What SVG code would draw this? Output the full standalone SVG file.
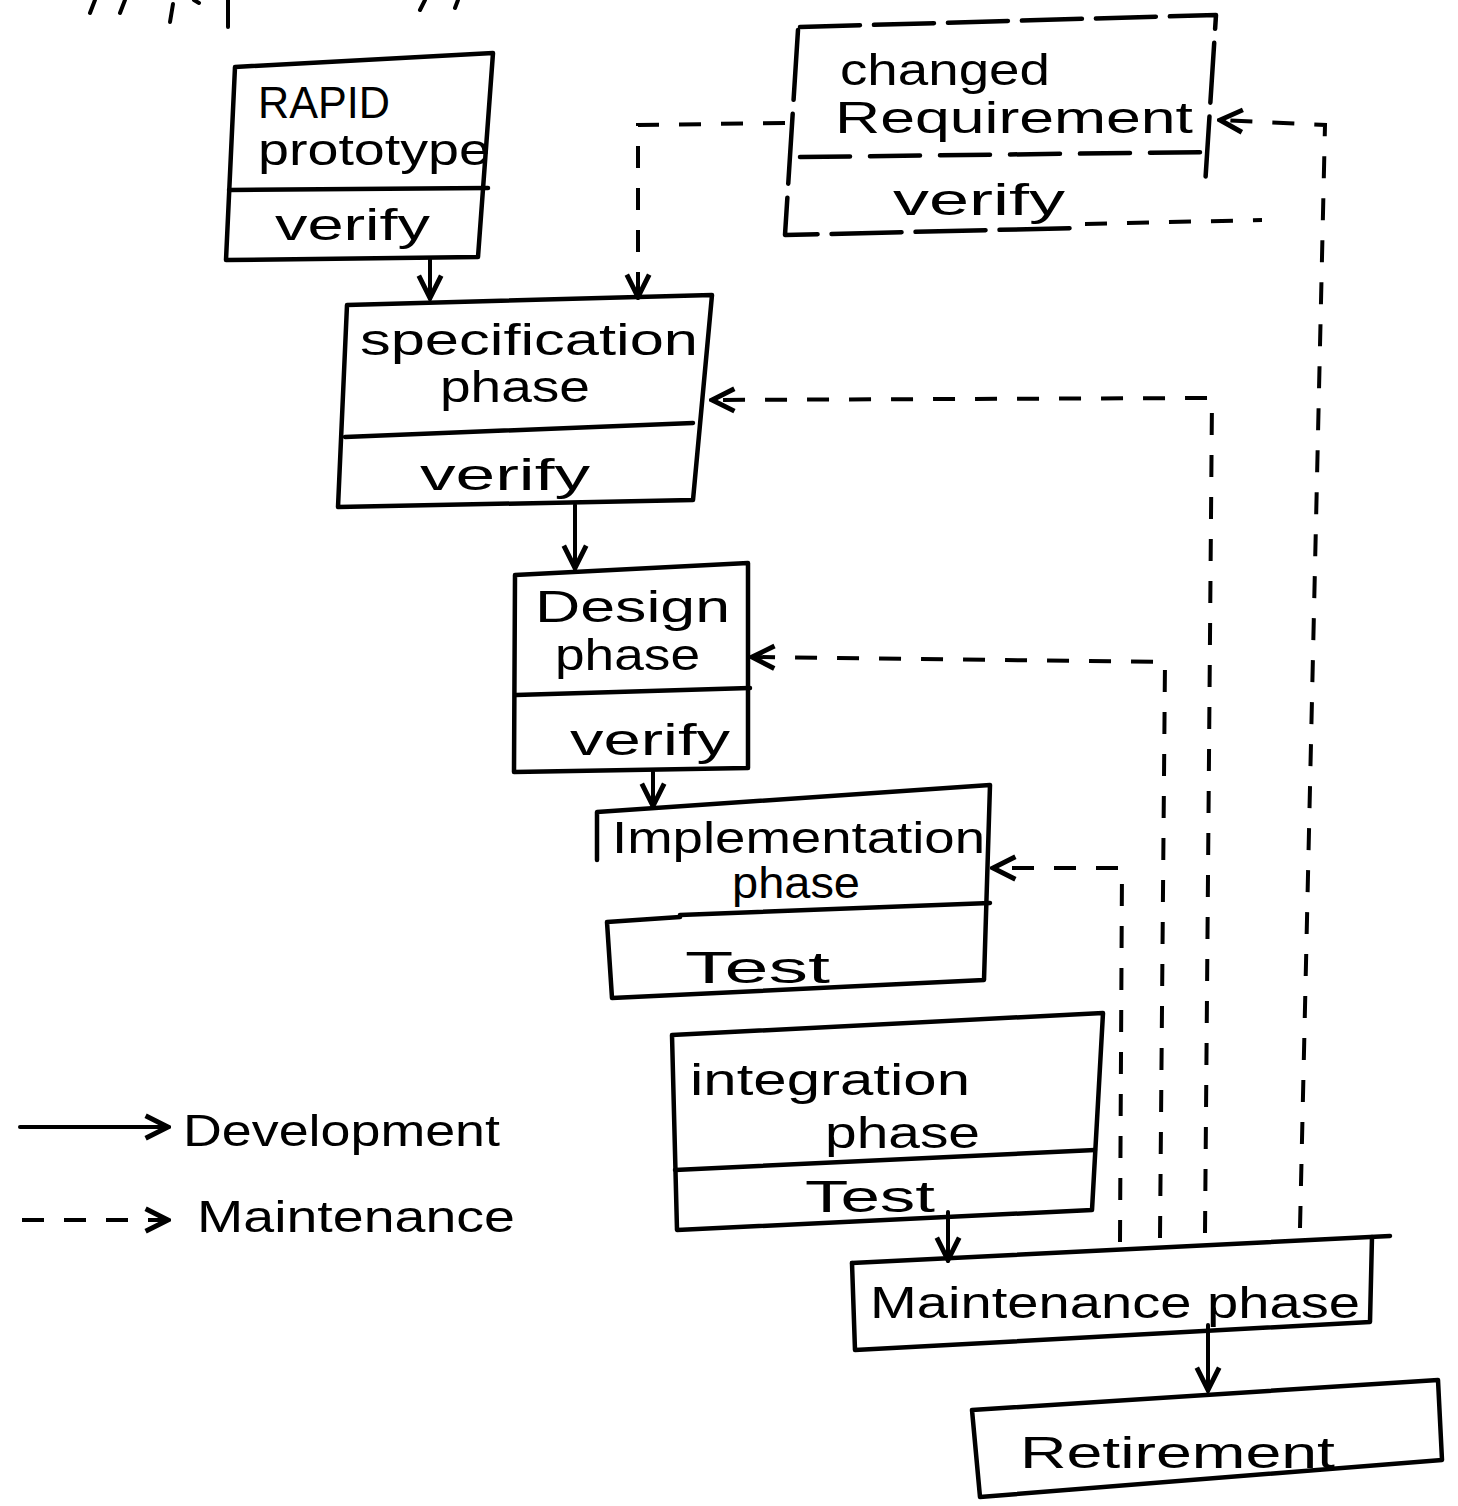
<svg xmlns="http://www.w3.org/2000/svg" width="1458" height="1506" viewBox="0 0 1458 1506">
<style>
.bx{fill:none;stroke:#000;stroke-width:4.5;stroke-linejoin:round;stroke-linecap:round}
.t{font-family:"Liberation Sans","DejaVu Sans",sans-serif;font-size:44px;fill:#000}
.s{fill:none;stroke:#000;stroke-width:4;stroke-linecap:round}
.d{fill:none;stroke:#000;stroke-width:4;stroke-dasharray:22 20}
</style>
<defs>
<marker id="ah" viewBox="0 0 20 20" refX="18" refY="10" markerWidth="7" markerHeight="7" markerUnits="strokeWidth" orient="auto">
<path d="M2,2 L18,10 L2,18" fill="none" stroke="#000" stroke-width="3.5"/>
</marker>
</defs>
<rect width="1458" height="1506" fill="#fff"/>
<g id="fragments" class="s">
<path d="M95,0 L90,13"/><path d="M125,0 L120,13"/><path d="M173,4 L170,22"/><path d="M194,0 L199,3"/><path d="M228,0 L228,27"/><path d="M425,0 L420,10"/><path d="M458,0 L455,8"/>
</g>
<g id="rapid">
<path class="bx" d="M235,67 L493,53 L478,257 L226,260 Z"/>
<path class="bx" d="M229,190 L488,188"/>
<text class="t" x="258" y="118" textLength="132" lengthAdjust="spacingAndGlyphs">RAPID</text>
<text class="t" x="258" y="165" textLength="232" lengthAdjust="spacingAndGlyphs">prototype</text>
<text class="t" x="275" y="240" textLength="155" lengthAdjust="spacingAndGlyphs">verify</text>
</g>
<g id="changed">
<path class="bx" d="M800,27 L1216,15 L1205,186" stroke-dasharray="60 14"/>
<path class="bx" d="M798,30 L785,235 L1075,228" stroke-dasharray="70 14"/>
<path class="bx" d="M800,157 L1212,152" stroke-dasharray="50 20"/>
<text class="t" x="840" y="85" textLength="210" lengthAdjust="spacingAndGlyphs">changed</text>
<text class="t" x="835" y="133" textLength="358" lengthAdjust="spacingAndGlyphs">Requirement</text>
<text class="t" x="893" y="215" textLength="172" lengthAdjust="spacingAndGlyphs">verify</text>
</g>
<g id="spec">
<path class="bx" d="M347,305 L712,295 L693,500 L338,507 Z"/>
<path class="bx" d="M345,437 L693,423"/>
<text class="t" x="360" y="355" textLength="338" lengthAdjust="spacingAndGlyphs">specification</text>
<text class="t" x="440" y="402" textLength="150" lengthAdjust="spacingAndGlyphs">phase</text>
<text class="t" x="420" y="490" textLength="170" lengthAdjust="spacingAndGlyphs">verify</text>
</g>
<g id="design">
<path class="bx" d="M515,575 L748,563 L748,768 L514,772 Z"/>
<path class="bx" d="M516,695 L750,688"/>
<text class="t" x="535" y="622" textLength="195" lengthAdjust="spacingAndGlyphs">Design</text>
<text class="t" x="555" y="670" textLength="145" lengthAdjust="spacingAndGlyphs">phase</text>
<text class="t" x="570" y="755" textLength="160" lengthAdjust="spacingAndGlyphs">verify</text>
</g>
<g id="implementation">
<path class="bx" d="M597,860 L597,812 L990,785 L984,980 L612,998 L607,922 L680,917"/>
<path class="bx" d="M680,915 L990,903"/>
<text class="t" x="612" y="853" font-size="41" textLength="373" lengthAdjust="spacingAndGlyphs">Implementation</text>
<text class="t" x="732" y="898" font-size="36" textLength="128" lengthAdjust="spacingAndGlyphs">phase</text>
<text class="t" x="685" y="983" textLength="145" lengthAdjust="spacingAndGlyphs">Test</text>
</g>
<g id="integration">
<path class="bx" d="M672,1035 L1103,1013 L1092,1210 L677,1230 Z"/>
<path class="bx" d="M675,1170 L1095,1150"/>
<text class="t" x="690" y="1095" textLength="280" lengthAdjust="spacingAndGlyphs">integration</text>
<text class="t" x="825" y="1148" textLength="155" lengthAdjust="spacingAndGlyphs">phase</text>
<text class="t" x="805" y="1212" textLength="130" lengthAdjust="spacingAndGlyphs">Test</text>
</g>
<g id="maintenance">
<path class="bx" d="M852,1263 L1390,1236"/>
<path class="bx" d="M852,1263 L855,1350 L1370,1322 L1372,1237"/>
<text class="t" x="870" y="1318" textLength="490" lengthAdjust="spacingAndGlyphs">Maintenance phase</text>
</g>
<g id="retirement">
<path class="bx" d="M972,1410 L1438,1380 L1442,1460 L980,1497 Z"/>
<text class="t" x="1020" y="1468" textLength="315" lengthAdjust="spacingAndGlyphs">Retirement</text>
</g>
<g id="connectors">
<path class="s" d="M430,258 L430,298" marker-end="url(#ah)"/>
<path class="s" d="M575,505 L575,568" marker-end="url(#ah)"/>
<path class="s" d="M653,772 L653,806" marker-end="url(#ah)"/>
<path class="s" d="M948,1212 L948,1260" marker-end="url(#ah)"/>
<path class="s" d="M1208,1325 L1208,1390" marker-end="url(#ah)"/>
<path class="d" d="M1300,1228 L1325,125 L1220,120" marker-end="url(#ah)"/>
<path class="d" d="M1205,1233 L1212,398 L712,400" marker-end="url(#ah)"/>
<path class="d" d="M1160,1238 L1165,662 L752,657" marker-end="url(#ah)"/>
<path class="d" d="M1120,1242 L1122,868 L993,868" marker-end="url(#ah)"/>
<path class="d" d="M785,123 L638,125 L638,297" marker-end="url(#ah)"/>
<path class="d" d="M1085,224 L1262,220"/>
</g>
<g id="legend">
<path class="s" d="M20,1127 L168,1127" marker-end="url(#ah)"/>
<text class="t" x="183" y="1146" textLength="317" lengthAdjust="spacingAndGlyphs">Development</text>
<path class="d" d="M22,1220 L168,1220" stroke-dasharray="20 16" marker-end="url(#ah)"/>
<text class="t" x="197" y="1232" textLength="318" lengthAdjust="spacingAndGlyphs">Maintenance</text>
</g>
</svg>
